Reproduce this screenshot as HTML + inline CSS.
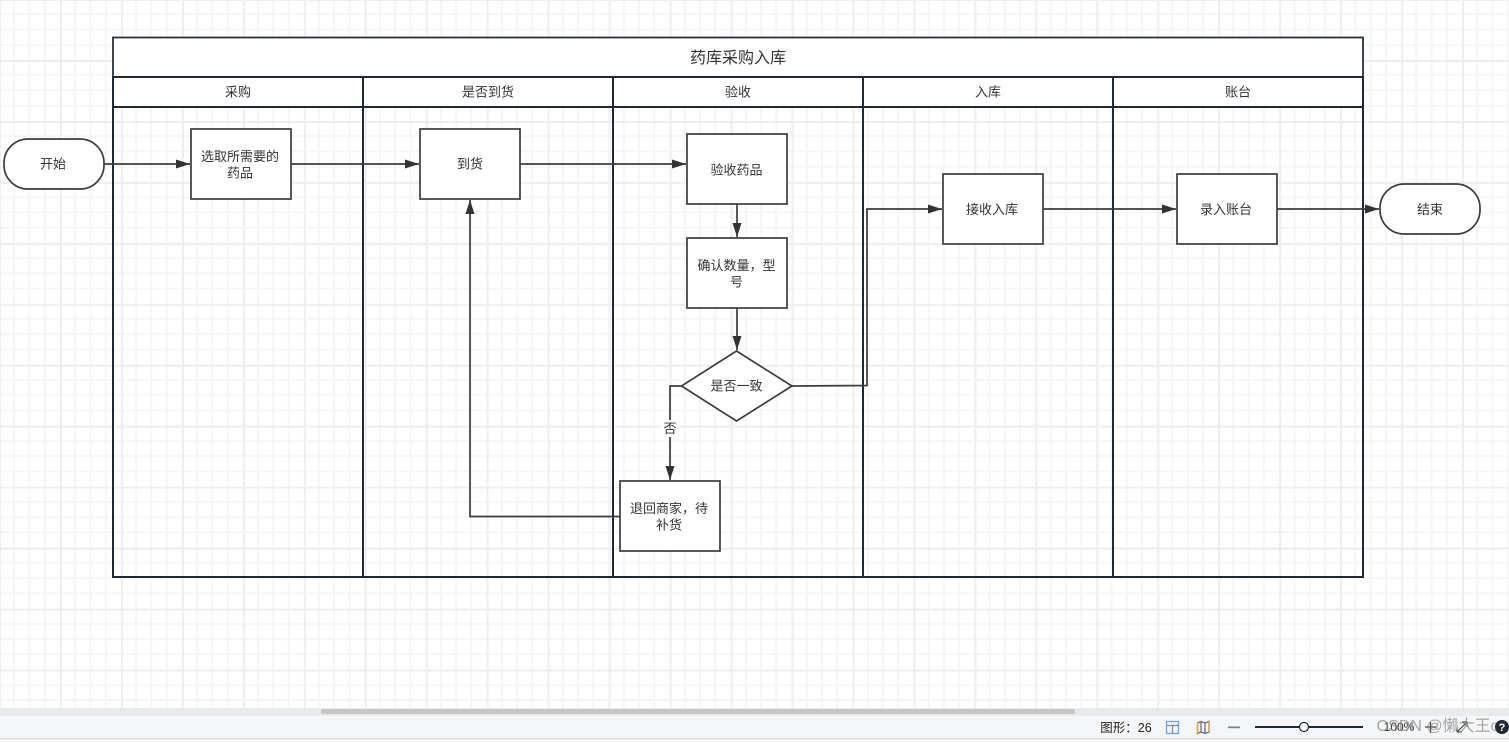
<!DOCTYPE html>
<html><head><meta charset="utf-8">
<style>
html,body{margin:0;padding:0;background:#fff;width:1509px;height:742px;overflow:hidden}
svg{display:block}
text{font-family:"Liberation Sans","Noto Sans CJK SC",sans-serif;font-size:13px;fill:#333;text-anchor:middle}
</style></head><body>
<svg width="1509" height="742" viewBox="0 0 1509 742" xmlns="http://www.w3.org/2000/svg">
<defs>
<pattern id="g" x="-1" y="-1" width="60.96" height="60.96" patternUnits="userSpaceOnUse">
<path d="M15.24 0V61M30.48 0V61M45.72 0V61M0 15.24H61M0 30.48H61M0 45.72H61" stroke="#f5f5f5" stroke-width="1.8" fill="none"/>
<path d="M1 0V61M0 1H61" stroke="#eeeeee" stroke-width="2" fill="none"/>
</pattern>
<marker id="a" markerUnits="userSpaceOnUse" markerWidth="15" markerHeight="10" refX="14" refY="5" orient="auto">
<path d="M0 0.5L14 5L0 9.500Z" fill="#333"/>
</marker>
</defs>
<rect width="1509" height="709" fill="url(#g)"/>

<!-- swimlanes -->
<rect x="113" y="37.500" width="1250" height="40" fill="#fff" stroke="#2b323a" stroke-width="1.800"/>
<rect x="113" y="77" width="1250" height="30" fill="#fff"/>
<g fill="none" stroke="#1f2933" stroke-width="2">
<rect x="113" y="77" width="1250" height="500"/>
<path d="M113 107H1363M363 77V577M613 77V577M863 77V577M1113 77V577"/>
</g>
<text x="738" y="63" style="font-size:16px">药库采购入库</text>
<text x="238" y="96.500">采购</text>
<text x="488" y="96.500">是否到货</text>
<text x="738" y="96.500">验收</text>
<text x="988" y="96.500">入库</text>
<text x="1238" y="96.500">账台</text>

<!-- connectors -->
<g fill="none" stroke="#3c3c3c" stroke-width="1.700" marker-end="url(#a)">
<path d="M104 164H190"/>
<path d="M291 164H419"/>
<path d="M520 164H686"/>
<path d="M737 204V237"/>
<path d="M737 308V350"/>
<path d="M792 386L867 385.500V209H942"/>
<path d="M681 386H670V480"/>
<path d="M620 516.500H470V200"/>
<path d="M1043 209H1176"/>
<path d="M1277 209H1379"/>
</g>

<!-- nodes -->
<g fill="#fff" stroke="#3c3c3c" stroke-width="1.700">
<rect x="4" y="139" width="100" height="50" rx="24" ry="24"/>
<rect x="191" y="129" width="100" height="70"/>
<rect x="420" y="129" width="100" height="70"/>
<rect x="687" y="134" width="100" height="70"/>
<rect x="687" y="238" width="100" height="70"/>
<path d="M736.500 351L792 386L736.500 421L681.500 386Z"/>
<rect x="620" y="481" width="100" height="70"/>
<rect x="943" y="174" width="100" height="70"/>
<rect x="1177" y="174" width="100" height="70"/>
<rect x="1380" y="184" width="100" height="50" rx="24" ry="24"/>
</g>

<text x="53" y="168.500">开始</text>
<text x="240" y="161">选取所需要的</text>
<text x="240" y="177.500">药品</text>
<text x="470" y="168.500">到货</text>
<text x="736.500" y="174.500">验收药品</text>
<text x="736.500" y="270">确认数量，型</text>
<text x="736.500" y="286.500">号</text>
<text x="736.500" y="390.500">是否一致</text>
<rect x="662" y="420" width="17" height="17" fill="#fff"/>
<text x="670" y="433">否</text>
<text x="669" y="513">退回商家，待</text>
<text x="669" y="529.500">补货</text>
<text x="992" y="214">接收入库</text>
<text x="1226" y="214">录入账台</text>
<text x="1430" y="214">结束</text>

<!-- bottom bars -->
<rect x="0" y="708" width="1509" height="8" fill="#e9eaec"/>
<rect x="321" y="709" width="754" height="5" rx="2" fill="#c6c6c6"/>
<rect x="0" y="716" width="1509" height="23" fill="#f5f6f8"/>
<rect x="0" y="738" width="1509" height="1.500" fill="#dcdde0"/>
<rect x="0" y="739.500" width="1509" height="2.500" fill="#fbfbfb"/>

<text x="1126" y="732" style="font-size:12.500px;fill:#222">图形：26</text>
<g fill="none" stroke-width="1.300">
<rect x="1166.500" y="721.500" width="12" height="12" stroke="#6aa5e8"/>
<path d="M1166.500 725.500H1178.500M1172.500 725.500V733.500" stroke="#7a8899"/>
<path d="M1197.500 723L1201 721.500L1205 723L1209 721.500V732L1205 733.500L1201 732L1197.500 733.500Z" stroke="#6b7280"/>
<path d="M1197.500 723V733.500" stroke="#e8a33d"/>
<path d="M1209 721.500V732" stroke="#e8a33d"/>
<path d="M1201 722V732M1205 723V733" stroke="#6b7280"/>
</g>
<rect x="1228" y="726.500" width="12" height="1.700" fill="#7b7f86"/>
<rect x="1255" y="726" width="108" height="2" fill="#1f2933"/>
<circle cx="1304" cy="727" r="4.500" fill="#fff" stroke="#1f2933" stroke-width="1.200"/>
<text x="1399" y="731" style="font-size:12px;fill:#333">100%</text>
<path d="M1425 727H1436M1430.500 722V733" stroke="#444" stroke-width="1.200" fill="none"/>
<path d="M1457 732L1467 722M1462 722H1467V727M1457 727V732H1462" stroke="#333" stroke-width="1" fill="none"/>
<text x="1438" y="731" style="font-size:16px;fill:#8a8a8a;opacity:.75">CSDN @懒大王o</text>
<circle cx="1502" cy="727" r="7" fill="#1f2933"/>
<text x="1502" y="731" style="font-size:11px;font-weight:bold;fill:#fff">?</text>
</svg>
</body></html>
